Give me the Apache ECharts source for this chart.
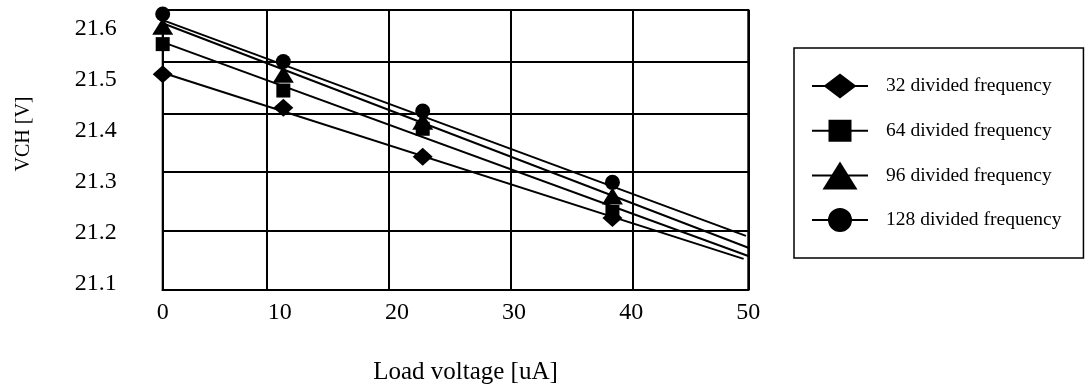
<!DOCTYPE html>
<html>
<head>
<meta charset="utf-8">
<script src="https://cdn.jsdelivr.net/npm/echarts/dist/echarts.min.js"></script>
<style>
  html, body { margin: 0; padding: 0; background: #fff; }
  #chart { width: 1089px; height: 385px; }
</style>
</head>
<body>
<div id="chart"></div>
<script>
// load current [uA] at which VCH was measured
var loadValues = [0, 10.3, 22.2, 38.4];

// measured VCH [V] per division ratio
var div32 = [21.51, 21.444, 21.348, 21.228];
var div64 = [21.569, 21.478, 21.403, 21.24];
var div96 = [21.604, 21.51, 21.418, 21.271];
var div128 = [21.628, 21.535, 21.438, 21.298];

// trend lines (start / end)
var trend32X = [0, 49.6],   trend32 = [21.513, 21.148];
var trend64X = [0, 50.65],  trend64 = [21.573, 21.148];
var trend96X = [0, 50.65],  trend96 = [21.61, 21.164];
var trend128X = [0, 49.8],  trend128 = [21.616, 21.193];

var seriesNames = ['32 divided frequency', '64 divided frequency', '96 divided frequency', '128 divided frequency'];

// tick labels
var xTickLabels = [0, 10, 20, 30, 40, 50];
var yTickLabels = [21.1, 21.2, 21.3, 21.4, 21.5, 21.6];

// where the (hand drawn) grid lines sit in the original figure
var xGridAt = [0, 8.91, 19.32, 29.74, 40.16, 50];
var yGridAt = [21.0869, 21.2025, 21.318, 21.432, 21.534, 21.6359];

var FONT = '"Liberation Serif", "Times New Roman", serif';

function pairs(xs, ys) {
    return xs.map(function (x, i) { return [x, ys[i]]; });
}

var chart = echarts.init(document.getElementById('chart'));

function trendSeries(xs, ys) {
    return {
        type: 'line',
        data: pairs(xs, ys),
        symbol: 'none',
        clip: false,
        silent: true,
        lineStyle: { color: '#000', width: 2 },
        z: 2
    };
}

function markerSeries(name, ys, symbol, size) {
    return {
        name: name,
        type: 'scatter',
        data: pairs(loadValues, ys),
        symbol: symbol,
        symbolSize: size,
        itemStyle: { color: '#000', opacity: 1 },
        z: 3
    };
}

// legend icons: line with the marker on it, padded to a full 56 x 30 box
var BOX = ' M0,0h0.01v0.01h-0.01Z M56,30h-0.01v-0.01h0.01Z';
var icons = [
    'path://M0,14H56V16H0Z M11.5,15L28,2.5L44.5,15L28,27.5Z' + BOX,
    'path://M0,14H56V16H0Z M16.5,4H39.5V26H16.5Z' + BOX,
    'path://M0,14H56V16H0Z M28,1L45.5,29L10.5,29Z' + BOX,
    'path://M0,14H56V16H0Z M16,15A12,12 0 1,1 40,15A12,12 0 1,1 16,15Z' + BOX
];

var option = {
    animation: false,
    backgroundColor: '#fff',
    textStyle: { fontFamily: FONT, color: '#000' },
    grid: {
        left: 162.7,
        right: 340.7,
        top: 10,
        bottom: 95,
        outerBoundsMode: 'none',
        containLabel: false,
        show: true,
        borderColor: '#000',
        borderWidth: 2
    },
    legend: {
        left: 794,
        top: 48,
        orient: 'vertical',
        padding: [23, 22, 23, 18],
        itemWidth: 56,
        itemHeight: 30,
        itemGap: 14.7,
        borderColor: '#000',
        borderWidth: 1.5,
        textStyle: { fontFamily: FONT, fontSize: 19.5, color: '#000', padding: [0, 0, 0, 13] },
        data: seriesNames.map(function (n, i) {
            return { name: n, icon: icons[i], itemStyle: { color: '#000' } };
        })
    },
    xAxis: {
        type: 'value',
        min: 0,
        max: 50,
        name: 'Load voltage [uA]',
        nameLocation: 'middle',
        nameGap: 70,
        nameTextStyle: { fontFamily: FONT, fontSize: 25, color: '#000', padding: [0, 0, 0, 20] },
        axisLine: { show: true, lineStyle: { color: '#000', width: 2 } },
        axisTick: { show: false, customValues: xGridAt },
        axisLabel: {
            customValues: xTickLabels,
            fontFamily: FONT,
            fontSize: 24,
            color: '#000',
            margin: 11
        },
        splitLine: { show: true, lineStyle: { color: '#000', width: 2 } }
    },
    yAxis: {
        type: 'value',
        min: 21.0869,
        max: 21.6359,
        name: 'VCH [V]',
        nameLocation: 'middle',
        nameGap: 129,
        nameRotate: 90,
        nameTextStyle: { fontFamily: FONT, fontSize: 20, color: '#000', padding: [0, 0, 0, 32] },
        axisLine: { show: false },
        axisTick: { show: false, customValues: yGridAt },
        axisLabel: {
            customValues: yTickLabels,
            formatter: function (v) { return v.toFixed(1); },
            fontFamily: FONT,
            fontSize: 24,
            color: '#000',
            margin: 46
        },
        splitLine: { show: true, lineStyle: { color: '#000', width: 2 } }
    },
    series: [
        trendSeries(trend32X, trend32),
        trendSeries(trend64X, trend64),
        trendSeries(trend96X, trend96),
        trendSeries(trend128X, trend128),
        markerSeries(seriesNames[0], div32, 'diamond', [20, 18]),
        markerSeries(seriesNames[1], div64, 'rect', [14, 14]),
        markerSeries(seriesNames[2], div96, 'triangle', [21, 17]),
        markerSeries(seriesNames[3], div128, 'circle', 15)
    ]
};

chart.setOption(option);
</script>
</body>
</html>
